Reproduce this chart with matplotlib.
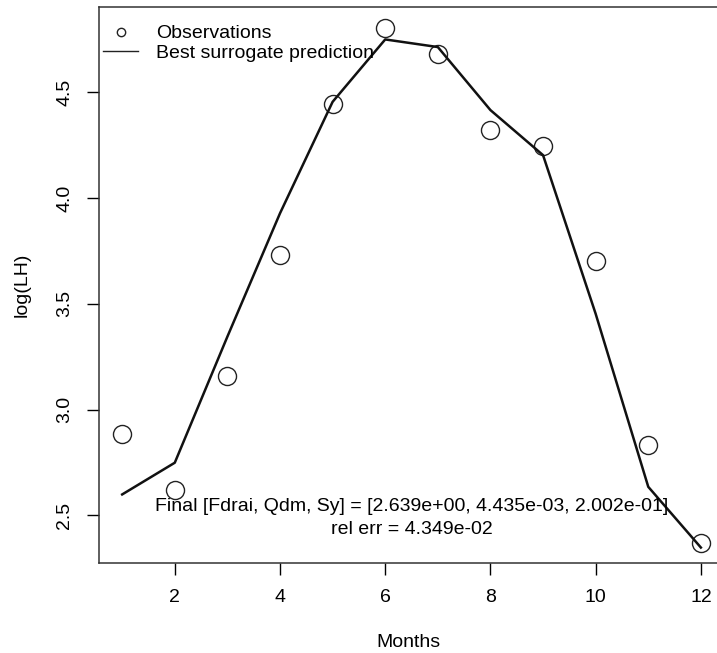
import numpy as np
import matplotlib
matplotlib.use("Agg")
import matplotlib.pyplot as plt
from matplotlib.lines import Line2D

plt.rcParams["font.family"] = ["Liberation Sans", "DejaVu Sans"]
plt.rcParams["font.size"] = 14

# ---- data ----
months = [1, 2, 3, 4, 5, 6, 7, 8, 9, 10, 11, 12]
obs_loglh = [2.883, 2.619, 3.158, 3.733, 4.444, 4.806, 4.682, 4.320, 4.244, 3.701, 2.832, 2.371]
pred_loglh = [2.599, 2.749, 3.345, 3.928, 4.455, 4.750, 4.714, 4.416, 4.203, 3.453, 2.635, 2.348]
xticks = [2, 4, 6, 8, 10, 12]
yticks = [2.5, 3.0, 3.5, 4.0, 4.5]
params = [2.639e+00, 4.435e-03, 2.002e-01]
rel_err = 4.349e-02

fig = plt.figure(figsize=(7.17, 6.53), dpi=100)
ax = fig.add_axes([0.1381, 0.1374, 0.8717, 0.8519])

ax.plot(months, obs_loglh, "o", ms=13, mfc="none", mec="#222222", mew=1.0)
ax.plot(months, pred_loglh, "-", color="#111111", lw=1.8)

# R style 4% padding around the data
x0, x1 = min(months), max(months)
y0, y1 = min(obs_loglh), max(obs_loglh)
ax.set_xlim(x0 - 0.04 * (x1 - x0), x1 + 0.04 * (x1 - x0))
ax.set_ylim(y0 - 0.04 * (y1 - y0), y1 + 0.04 * (y1 - y0))

ax.set_xticks(xticks)
ax.set_xticklabels([str(t) for t in xticks])
ax.set_yticks(yticks)
ax.set_yticklabels([f"{t:.1f}" for t in yticks], rotation=90, va="center")
ax.tick_params(direction="out", length=8.6, width=1, pad=10, colors="black")
for sp in ax.spines.values():
    sp.set_linewidth(1.1)
    sp.set_color("#333333")

ax.set_xlabel("Months")
ax.xaxis.set_label_coords(0.4948, -0.143)
ax.xaxis.label.set_va("center")
ax.set_ylabel("log(LH)")
ax.yaxis.set_label_coords(-0.123, 0.5)
ax.yaxis.label.set_va("center")

handles = [
    Line2D([], [], ls="none", marker="o", ms=6, mfc="none", mec="#222222", mew=1.0),
    Line2D([], [], ls="-", color="#222222", lw=1.0),
]
ax.legend(handles, ["Observations", "Best surrogate prediction"], loc="upper left",
          bbox_to_anchor=(0.0064, 0.968), frameon=False, borderpad=0,
          borderaxespad=0, handlelength=1.8, handletextpad=0.95, labelspacing=0.1)

txt = ("Final [Fdrai, Qdm, Sy] = [" + ", ".join(f"{p:.3e}" for p in params) + "]\n"
       f"rel err = {rel_err:.3e}")
ax.text(6.5, 2.488, txt, ha="center", va="center", linespacing=1.42)

fig.savefig("out.png", dpi=100)
